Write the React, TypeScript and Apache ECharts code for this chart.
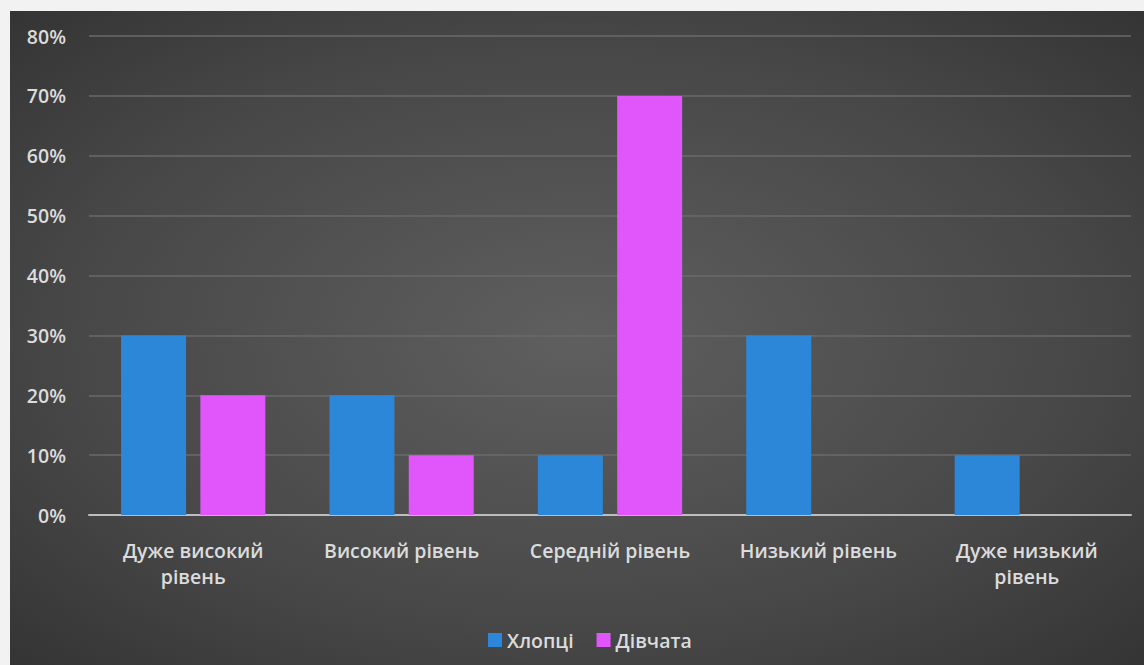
import React, { useEffect, useRef } from "react";
import * as echarts from "echarts";

// Level categories and the share of respondents (in %) at each level
const categories = [
  "Дуже високий\nрівень",
  "Високий рівень",
  "Середній рівень",
  "Низький рівень",
  "Дуже низький\nрівень",
];
const boys = [30, 20, 10, 30, 10];
const girls = [20, 10, 70, 0, 0];
const seriesNames = ["Хлопці", "Дівчата"];
const yTicks = { min: 0, max: 80, interval: 10 };

const BLUE = "#2d87d8";
const PINK = "#e056fb";
const TEXT = "#dcdcdc";
const FONT = "'Open Sans', 'Noto Sans', sans-serif";
const FS = 19.5;

export default function App() {
  const ref = useRef<HTMLDivElement>(null);

  useEffect(() => {
    document.body.style.margin = "0";
    if (!ref.current) return;
    const chart = echarts.init(ref.current, null, { renderer: "svg" });
    chart.setOption({
      animation: false,
      backgroundColor: {
        type: "radial",
        x: 0.5,
        y: 0.5,
        r: 0.75,
        colorStops: [
          { offset: 0, color: "#5f5f5f" },
          { offset: 0.6, color: "#474747" },
          { offset: 1, color: "#313131" },
        ],
      },
      textStyle: { fontFamily: FONT },
      grid: { left: 79, right: 13, top: 25, bottom: 150 },
      legend: {
        left: 473,
        top: 614,
        icon: "rect",
        itemWidth: 14,
        itemHeight: 14,
        itemGap: 23,
        textStyle: { color: TEXT, fontSize: FS, fontWeight: 600, fontFamily: FONT },
        data: seriesNames,
      },
      xAxis: {
        type: "category",
        data: categories,
        axisLine: { show: true, lineStyle: { color: "#bdbdbd", width: 2 } },
        axisTick: { show: false },
        axisLabel: {
          color: TEXT,
          fontSize: FS,
          fontWeight: 600,
          lineHeight: 26,
          margin: 22,
          interval: 0,
          fontFamily: FONT,
        },
      },
      yAxis: {
        type: "value",
        min: yTicks.min,
        max: yTicks.max,
        interval: yTicks.interval,
        axisLine: { show: false },
        axisTick: { show: false },
        axisLabel: {
          color: TEXT,
          fontSize: FS,
          fontWeight: 600,
          margin: 23,
          padding: [7, 0, 0, 0],
          formatter: "{value}%",
          fontFamily: FONT,
        },
        splitLine: { lineStyle: { color: "#6a6a6a", width: 1.5 } },
      },
      series: [
        {
          name: seriesNames[0],
          type: "bar",
          data: boys,
          barWidth: 65,
          barGap: "22%",
          itemStyle: { color: BLUE },
        },
        {
          name: seriesNames[1],
          type: "bar",
          data: girls,
          barWidth: 65,
          barGap: "22%",
          itemStyle: { color: PINK },
        },
      ],
    });
    return () => chart.dispose();
  }, []);

  return (
    <div style={{ width: 1144, height: 665, background: "#f2f2f2", position: "relative", overflow: "hidden" }}>
      <div
        ref={ref}
        style={{ position: "absolute", left: 10, top: 11, width: 1134, height: 654 }}
      />
    </div>
  );
}
